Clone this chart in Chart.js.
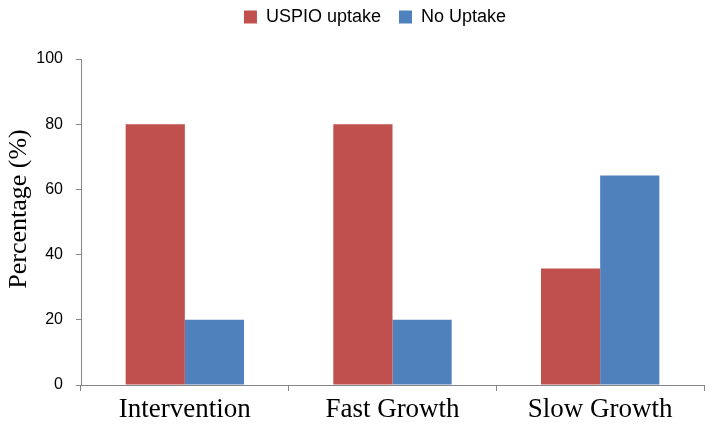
<!DOCTYPE html>
<html lang="en">
<head>
    <meta charset="UTF-8">
    <title>USPIO uptake</title>
    <script src="https://cdn.jsdelivr.net/npm/chart.js"></script>
    <style>
        html, body { margin: 0; padding: 0; background: #fff; }
    </style>
</head>
<body>
    <canvas id="myChart" width="714" height="436"></canvas>

    <script>
        // data block
        const categories = ['Intervention', 'Fast Growth', 'Slow Growth'];
        const uspioUptake = [80, 80, 35.7];
        const noUptake = [20, 20, 64.3];
        const yTicks = [0, 20, 40, 60, 80, 100];

        const axisGrey = '#868686';

        const data = {
            labels: categories,
            datasets: [{
                label: 'USPIO uptake',
                data: uspioUptake,
                backgroundColor: '#C0504D',
                categoryPercentage: 0.57,
                barPercentage: 1.0
            }, {
                label: 'No Uptake',
                data: noUptake,
                backgroundColor: '#4F81BD',
                categoryPercentage: 0.57,
                barPercentage: 1.0
            }]
        };

        // extra room under the legend, and nudge it a little right
        const legendGap = {
            id: 'legendGap',
            beforeInit(chart) {
                const fit = chart.legend.fit;
                chart.legend.fit = function () {
                    fit.call(this);
                    this.height += 23;
                };
            },
            afterLayout(chart) {
                chart.legend.left += 21;
                chart.legend.right += 21;
            }
        };

        // config block
        const config = {
            type: 'bar',
            data,
            plugins: [legendGap],
            options: {
                responsive: false,
                animation: false,
                layout: { padding: { left: 4, right: 10, top: -10, bottom: 0 } },
                plugins: {
                    tooltip: { enabled: false },
                    legend: {
                        position: 'top',
                        labels: {
                            color: '#000',
                            font: { family: 'Liberation Sans', size: 18 },
                            boxWidth: 13,
                            boxHeight: 13,
                            padding: 18
                        }
                    }
                },
                scales: {
                    x: {
                        grid: {
                            drawOnChartArea: false,
                            color: axisGrey,
                            tickLength: 6
                        },
                        border: { color: axisGrey },
                        ticks: {
                            color: '#000',
                            font: { family: 'Liberation Serif', size: 27 },
                            padding: 3,
                            maxRotation: 0
                        },
                        afterFit: s => { s.height = 51; }
                    },
                    y: {
                        min: 0,
                        max: 100,
                        afterBuildTicks: s => { s.ticks = yTicks.map(v => ({ value: v })); },
                        grid: {
                            drawOnChartArea: false,
                            color: axisGrey,
                            tickLength: 5
                        },
                        border: { color: axisGrey },
                        ticks: {
                            color: '#000',
                            font: { family: 'Liberation Sans', size: 16 },
                            padding: 13
                        },
                        title: {
                            display: true,
                            text: '    Percentage (%)',
                            color: '#000',
                            font: { family: 'Liberation Serif', size: 26 },
                            padding: { top: 0, bottom: 9 }
                        },
                        afterFit: s => { s.width = 77; }
                    }
                }
            }
        };

        // render block
        const myChart = new Chart(document.getElementById('myChart'), config);
    </script>
</body>
</html>
